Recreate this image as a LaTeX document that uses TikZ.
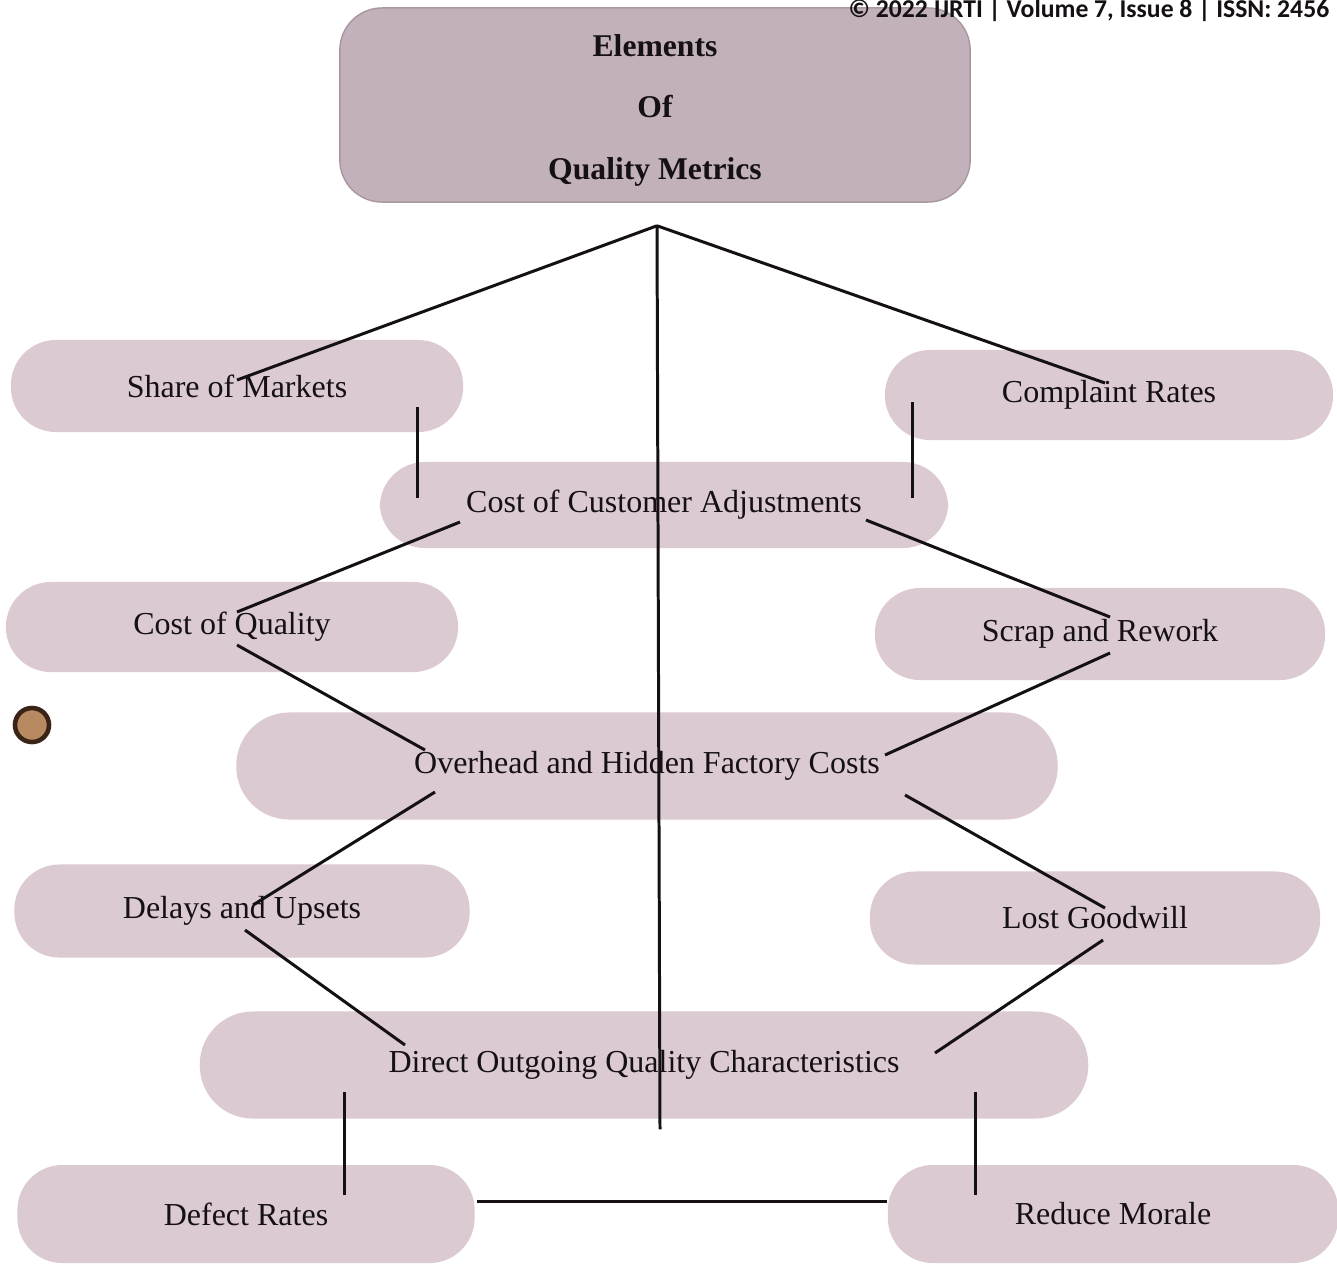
\documentclass[tikz,border=0pt]{standalone}
\usepackage{fontspec}
\setmainfont{Liberation Serif}
\newfontfamily\hdrfont{Carlito}
\usepackage{xcolor}
\usetikzlibrary{positioning,calc}
\definecolor{Mauve}{HTML}{C2B1BA}
\definecolor{MauveEdge}{HTML}{A8979F}
\definecolor{Blush}{HTML}{DCCAD2}
\definecolor{Ink}{HTML}{141014}
\definecolor{Tan}{HTML}{B88A62}
\definecolor{Umber}{HTML}{3A2418}
\tikzset{
  head/.style={draw=MauveEdge,fill=Mauve,rounded corners=12pt,minimum width=6.3cm,minimum height=1.94cm,align=center,font=\fontsize{9}{17.6}\selectfont\bfseries,text=Ink},
  pill/.style={fill=Blush,rounded corners=0.45cm,minimum height=0.92cm,minimum width=4.52cm,align=center,font=\fontsize{9.1}{11}\selectfont,text=Ink},
  wide/.style={pill,rounded corners=0.53cm,minimum height=1.07cm},
  link/.style={draw=Ink,line width=0.85pt}
}

\begin{document}
\begin{tikzpicture}[x=0.01cm,y=-0.01cm]
  \useasboundingbox (0,0) rectangle (1337,1263);
  \clip (0,0) rectangle (1337,1263);
  \fill[white] (0,0) rectangle (1337,1263);
  \node[head] (title) at (655,105) {\rule{0pt}{9.3pt}Elements\\Of\\Quality Metrics};
  \node[anchor=base west,font=\hdrfont\fontsize{7.3}{9}\selectfont\bfseries,text=Ink,inner sep=0pt] (hdr) at (848,17) {© 2022 IJRTI | Volume 7, Issue 8 | ISSN: 2456};
  \coordinate (hub) at ($(title.south)+(2,23)$);
  \node[pill] (som) at (237,386) {Share of Markets};
  \node[pill,minimum width=4.48cm,minimum height=0.9cm] (cr) at (1109,395) {Complaint Rates};
  \node[pill,minimum width=5.68cm,minimum height=0.86cm] (cca) at (664,505) {Cost of Customer Adjustments};
  \node[pill,minimum height=0.9cm] (coq) at (232,627) {Cost of Quality};
  \node[pill,minimum width=4.5cm] (sr) at (1100,634) {Scrap and Rework};
  \node[wide,minimum width=8.21cm] (ohf) at (647,766) {Overhead and Hidden Factory Costs};
  \node[pill,minimum width=4.55cm,minimum height=0.93cm] (du) at (242,911) {Delays and Upsets};
  \node[pill,minimum width=4.5cm,minimum height=0.93cm] (lg) at (1095,918) {Lost Goodwill};
  \node[wide,minimum width=8.88cm] (doq) at (644,1065) {Direct Outgoing Quality Characteristics};
  \node[pill,minimum width=4.57cm,minimum height=0.98cm] (dr) at (246,1214) {Defect Rates};
  \node[pill,minimum width=4.5cm,minimum height=0.98cm] (rm) at (1113,1214) {Reduce Morale};
  \node[circle,fill=Tan,draw=Umber,line width=1.3pt,minimum size=0.34cm,inner sep=0pt] (hole) at (32,725) {};
  % links from the top box
  \draw[link] (hub) -- ($(som)+(0,-6)$);
  \draw[link] (hub) -- ($(cr)+(-4,-12)$);
  \draw[link] (hub) -- ($(doq.south)+(16,10)$);
  % upper half
  \draw[link] ($(som)+(180,21)$) -- ($(cca)+(-247,-7)$);
  \draw[link] ($(cr)+(-197,7)$) -- ($(cca)+(248,-7)$);
  \draw[link] ($(cca)+(-204,17)$) -- ($(coq)+(5,-15)$);
  \draw[link] ($(cca)+(202,15)$) -- ($(sr)+(10,-17)$);
  \draw[link] ($(coq)+(5,18)$) -- ($(ohf)+(-222,-16)$);
  \draw[link] ($(sr)+(10,19)$) -- ($(ohf)+(238,-11)$);
  % lower half
  \draw[link] ($(ohf)+(-212,26)$) -- ($(du)+(11,-6)$);
  \draw[link] ($(ohf)+(258,29)$) -- ($(lg)+(10,-10)$);
  \draw[link] ($(du)+(3,19)$) -- ($(doq)+(-239,-20)$);
  \draw[link] ($(lg)+(8,22)$) -- ($(doq)+(291,-12)$);
  \draw[link] ($(doq)+(-300,27)$) -- ($(dr)+(98,-19)$);
  \draw[link] ($(doq)+(331,27)$) -- ($(rm)+(-138,-19)$);
  \draw[link] ($(dr.east)+(2,-13)$) -- ($(rm.west)+(0,-13)$);
\end{tikzpicture}
\end{document}
